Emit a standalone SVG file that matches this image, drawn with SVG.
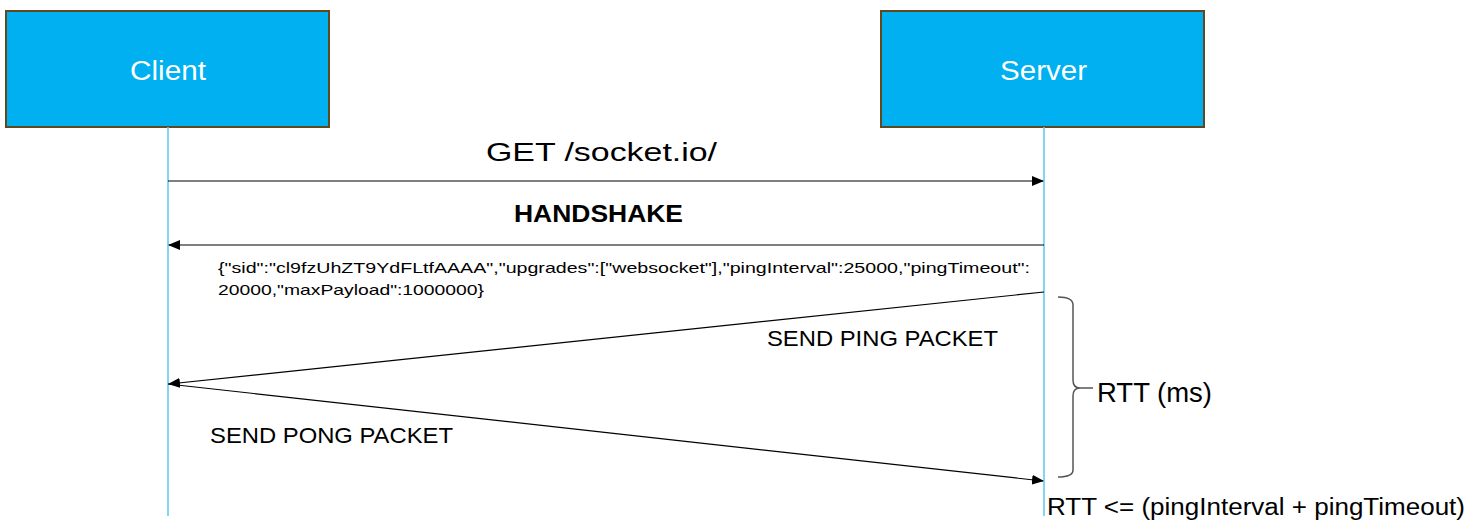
<svg xmlns="http://www.w3.org/2000/svg" width="1481" height="520" viewBox="0 0 1481 520">
<style>
.box{fill:#00b0f0;stroke:#5e4a1e;stroke-width:2}
.title{font-family:"Liberation Sans",Arial,sans-serif;font-size:27px;fill:#ffffff}
.life{stroke:#5cc8f2;stroke-width:1.5;fill:none}
.msg{stroke:#000;stroke-width:1.2;fill:none;marker-end:url(#ah)}
.lbl{font-family:"Liberation Sans",Arial,sans-serif;fill:#000}
</style>
<defs>
<marker id="ah" markerWidth="12" markerHeight="10" refX="11" refY="5" orient="auto" markerUnits="userSpaceOnUse">
<path d="M0,0 L12,5 L0,10 Z" fill="#000"/>
</marker>
</defs>
<rect width="1481" height="520" fill="#fff"/>
<g id="client">
<rect class="box" x="6" y="11" width="323" height="116"/>
<text class="title" x="130" y="80" textLength="76" lengthAdjust="spacingAndGlyphs">Client</text>
</g>
<g id="server">
<rect class="box" x="881" y="11" width="323" height="116"/>
<text class="title" x="1000" y="80" textLength="87" lengthAdjust="spacingAndGlyphs">Server</text>
</g>
<g id="lifelines">
<line class="life" x1="168" y1="127" x2="168" y2="516"/>
<line class="life" x1="1044" y1="127" x2="1044" y2="516"/>
</g>
<g id="connectors">
<line class="msg" x1="168" y1="181" x2="1043" y2="181"/>
<line class="msg" x1="1044" y1="245" x2="169" y2="245"/>
<line class="msg" x1="1044" y1="292" x2="169" y2="384"/>
<line class="msg" x1="168" y1="384" x2="1043" y2="481"/>
<path d="M1058,297 Q1073,297 1073,305 L1073,380 Q1073,388 1080,388 L1093,388 M1080,388 Q1073,388 1073,396 L1073,470 Q1073,477 1058,477" fill="none" stroke="#555" stroke-width="1.5"/>
</g>
<g id="labels">
<text class="lbl" x="486" y="161" font-size="25" textLength="231" lengthAdjust="spacingAndGlyphs">GET /socket.io/</text>
<text class="lbl" x="514" y="222" font-size="23" font-weight="bold" textLength="169" lengthAdjust="spacingAndGlyphs">HANDSHAKE</text>
<text class="lbl" x="218" y="273" font-size="15" textLength="812" lengthAdjust="spacingAndGlyphs">{"sid":"cl9fzUhZT9YdFLtfAAAA","upgrades":["websocket"],"pingInterval":25000,"pingTimeout":</text>
<text class="lbl" x="218" y="295" font-size="15" textLength="266" lengthAdjust="spacingAndGlyphs">20000,"maxPayload":1000000}</text>
<text class="lbl" x="767" y="346" font-size="22" textLength="231" lengthAdjust="spacingAndGlyphs">SEND PING PACKET</text>
<text class="lbl" x="210" y="443" font-size="22" textLength="243" lengthAdjust="spacingAndGlyphs">SEND PONG PACKET</text>
<text class="lbl" x="1097" y="402" font-size="27" textLength="115" lengthAdjust="spacingAndGlyphs">RTT (ms)</text>
<text class="lbl" x="1047" y="515" font-size="23" textLength="418" lengthAdjust="spacingAndGlyphs">RTT &lt;= (pingInterval + pingTimeout)</text>
</g>
</svg>
